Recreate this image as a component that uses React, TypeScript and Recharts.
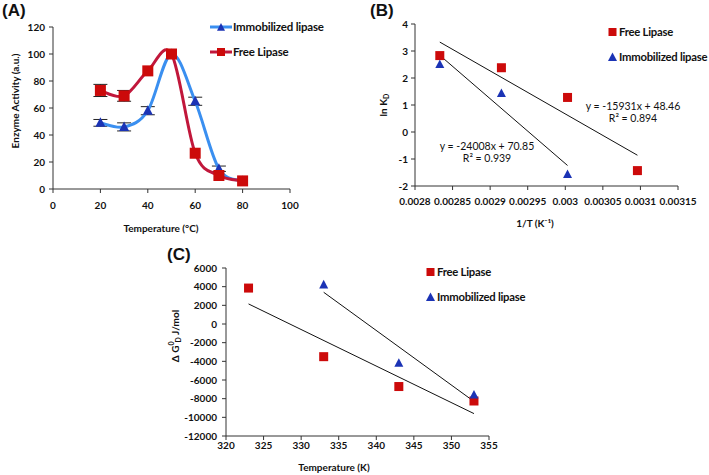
import React from "react";
import {
  ComposedChart, ScatterChart, Line, Scatter, XAxis, YAxis, ErrorBar, Legend, Label,
} from "recharts";

// ---------- (A) enzyme activity vs temperature ----------
const tempC = [20, 30, 40, 50, 60, 70, 80];
const immobActivity = [49, 46, 58, 100, 65, 15, 6];
const immobError = [2.5, 3, 3, null, 3, 2, null];
const freeActivity = [73, 69, 87.5, 100, 26.5, 10, 6];
const freeError = [4.5, 4, null, null, null, null, null];
const ticksAX = [0, 20, 40, 60, 80, 100];
const ticksAY = [0, 20, 40, 60, 80, 100, 120];

// ---------- (B) ln KD vs 1/T ----------
const invT = [0.002833, 0.002915, 0.003003, 0.003096];
const lnKFree = [2.83, 2.38, 1.28, -1.43];
const lnKImmob = [2.5, 1.43, -1.57];
const trendFreeBX = [0.002833, 0.003096];
const trendFreeBY = [3.33, -0.86];
const trendImmobBX = [0.002833, 0.003003];
const trendImmobBY = [2.84, -1.24];
const ticksBX = [0.0028, 0.00285, 0.0029, 0.00295, 0.003, 0.00305, 0.0031, 0.00315];
const ticksBY = [-2, -1, 0, 1, 2, 3, 4];

// ---------- (C) dG vs temperature ----------
const tempK = [323, 333, 343, 353];
const dGFree = [3850, -3500, -6700, -8250];
const tempKImmob = [333, 343, 353];
const dGImmob = [4200, -4200, -7600];
const trendFreeCX = [323, 353];
const trendFreeCY = [2150, -9600];
const trendImmobCX = [333, 353];
const trendImmobCY = [3400, -8300];
const ticksCX = [320, 325, 330, 335, 340, 345, 350, 355];
const ticksCY = [-12000, -10000, -8000, -6000, -4000, -2000, 0, 2000, 4000, 6000];

const FONT = "Lato, 'Liberation Sans', sans-serif";
const RED = "#cc0a0a";
const RED_LINE = "#c1173b";
const BLUE = "#1b33b5";
const BLUE_LINE = "#3a8ff0";
const AXIS = "#333";

const tick = { fontSize: 10, fontWeight: 700, fill: "#111", fontFamily: FONT };

const dataA = tempC.map((t, i) => ({
  t, imm: immobActivity[i], immErr: immobError[i], free: freeActivity[i], freeErr: freeError[i],
}));
const pts = (xs: number[], ys: number[]) => xs.map((x, i) => ({ x, y: ys[i] }));

// excel-like smoothed line (catmull-rom through the points)
function smoothCurve(context: any) {
  let p: number[][] = [];
  return {
    areaStart() {},
    areaEnd() {},
    lineStart() { p = []; },
    point(x: number, y: number) { p.push([x, y]); },
    lineEnd() {
      if (!p.length) return;
      context.moveTo(p[0][0], p[0][1]);
      for (let i = 0; i < p.length - 1; i++) {
        const p0 = p[Math.max(0, i - 1)], p1 = p[i], p2 = p[i + 1], p3 = p[Math.min(p.length - 1, i + 2)];
        context.bezierCurveTo(
          p1[0] + (p2[0] - p0[0]) / 6, p1[1] + (p2[1] - p0[1]) / 6,
          p2[0] - (p3[0] - p1[0]) / 6, p2[1] - (p3[1] - p1[1]) / 6,
          p2[0], p2[1]
        );
      }
    },
  };
}

const Tri = ({ cx, cy, s = 10, fill = BLUE }: any) =>
  cx == null ? null : (
    <path d={`M${cx},${cy - s * 0.55}L${cx + s / 2},${cy + s * 0.4}L${cx - s / 2},${cy + s * 0.4}Z`} fill={fill} />
  );
const Sq = ({ cx, cy, s = 10, fill = RED }: any) =>
  cx == null ? null : <rect x={cx - s / 2} y={cy - s / 2} width={s} height={s} fill={fill} />;

const legendText = {
  fontFamily: FONT, fontWeight: 700, fontSize: 11.5, letterSpacing: -0.2, color: "#111", whiteSpace: "nowrap" as const,
};
const legendTextSmall = { ...legendText, fontSize: 11.3, letterSpacing: -0.25 };

const LegendA = () => (
  <div style={legendText}>
    <div style={{ display: "flex", alignItems: "center", height: 25 }}>
      <svg width={22} height={12}>
        <line x1={0} y1={6} x2={22} y2={6} stroke={BLUE_LINE} strokeWidth={3} />
        <Tri cx={11} cy={6.5} s={8} />
      </svg>
      <span style={{ marginLeft: 1 }}>Immobilized lipase</span>
    </div>
    <div style={{ display: "flex", alignItems: "center", height: 25 }}>
      <svg width={22} height={12}>
        <line x1={0} y1={6} x2={22} y2={6} stroke={RED_LINE} strokeWidth={3} />
        <Sq cx={11} cy={6} s={8} />
      </svg>
      <span style={{ marginLeft: 1 }}>Free Lipase</span>
    </div>
  </div>
);

const LegendMarkers = () => (
  <div style={legendTextSmall}>
    <div style={{ display: "flex", alignItems: "center", height: 25 }}>
      <svg width={9} height={10}><Sq cx={4.5} cy={5} s={8} /></svg>
      <span style={{ marginLeft: 2 }}>Free Lipase</span>
    </div>
    <div style={{ display: "flex", alignItems: "center", height: 25 }}>
      <svg width={9} height={10}><Tri cx={4.5} cy={5.5} s={9} /></svg>
      <span style={{ marginLeft: 2 }}>Immobilized lipase</span>
    </div>
  </div>
);

const axisTitle = { fontFamily: FONT, fontWeight: 700, fontSize: 10, fill: "#111" };

const RotTitle = ({ x, y, children }: any) => (
  <text x={0} y={0} transform={`translate(${x},${y}) rotate(-90)`} textAnchor="middle" dominantBaseline="central" style={axisTitle}>
    {children}
  </text>
);

const panelTag = (txt: string, left: number, top: number) => (
  <div style={{ position: "absolute", left, top, fontFamily: "'Liberation Sans', Arial, sans-serif", fontWeight: 700, fontSize: 17, lineHeight: "20px", color: "#111" }}>
    {txt}
  </div>
);

const note = (lines: string[], cx: number, top: number) => (
  <div style={{ position: "absolute", left: cx - 60, top, width: 120, textAlign: "center", fontFamily: FONT, fontSize: 10.5, lineHeight: "12px", color: "#111" }}>
    {lines.map((l) => <div key={l}>{l}</div>)}
  </div>
);

const noShape = () => <g />;

export default function App() {
  return (
    <div style={{ position: "fixed", left: 0, top: 0, width: 709, height: 475, background: "#fff", overflow: "hidden" }}>
      {/* (A) */}
      <div style={{ position: "absolute", left: 0, top: 0 }}>
        <ComposedChart width={354} height={240} data={dataA} margin={{ top: 27, right: 64, bottom: 0, left: 0 }}>
          <XAxis type="number" dataKey="t" domain={[0, 100]} ticks={ticksAX} height={51} tick={tick} tickSize={4} tickMargin={9} stroke={AXIS}>
            <Label content={() => <text x={161} y={228} textAnchor="middle" dominantBaseline="central" style={axisTitle}>Temperature (°C)</text>} />
          </XAxis>
          <YAxis type="number" domain={[0, 120]} ticks={ticksAY} width={53} tick={tick} tickSize={4} tickMargin={4} stroke={AXIS}>
            <Label content={() => <RotTitle x={15} y={101}>Enzyme Activity (a.u.)</RotTitle>} />
          </YAxis>
          <Line dataKey="imm" name="Immobilized lipase" type={smoothCurve as any} stroke={BLUE_LINE} strokeWidth={3}
            dot={(p: any) => <Tri key={`i${p.index}`} cx={p.cx} cy={p.cy} s={10} />} isAnimationActive={false}>
            <ErrorBar dataKey="immErr" width={7} stroke="#222" strokeWidth={1} direction="y" />
          </Line>
          <Line dataKey="free" name="Free Lipase" type={smoothCurve as any} stroke={RED_LINE} strokeWidth={3}
            dot={(p: any) => <Sq key={`f${p.index}`} cx={p.cx} cy={p.cy} s={11} />} isAnimationActive={false}>
            <ErrorBar dataKey="freeErr" width={7} stroke="#222" strokeWidth={1} direction="y" />
          </Line>
          <Legend layout="vertical" align="center" verticalAlign="middle" content={LegendA}
            wrapperStyle={{ position: "absolute", left: 210, top: 14, width: "auto" }} />
        </ComposedChart>
      </div>

      {/* (B) */}
      <div style={{ position: "absolute", left: 354, top: 0 }}>
        <ScatterChart width={355} height={240} margin={{ top: 24, right: 31, bottom: 0, left: 0 }}>
          <XAxis type="number" dataKey="x" domain={[0.0028, 0.00315]} ticks={ticksBX} height={54} tick={tick} tickSize={4} tickMargin={8} stroke={AXIS}>
            <Label content={() => <text x={181} y={223} textAnchor="middle" dominantBaseline="central" style={axisTitle}>1/T (K⁻¹)</text>} />
          </XAxis>
          <YAxis type="number" dataKey="y" domain={[-2, 4]} ticks={ticksBY} width={61} tick={tick} tickSize={4} tickMargin={3} stroke={AXIS}>
            <Label content={() => <RotTitle x={29} y={105}>ln K<tspan dy={3} fontSize={7}>D</tspan></RotTitle>} />
          </YAxis>
          <Scatter data={pts(trendFreeBX, trendFreeBY)} line={{ stroke: "#111", strokeWidth: 1 }} shape={noShape} legendType="none" isAnimationActive={false} />
          <Scatter data={pts(trendImmobBX, trendImmobBY)} line={{ stroke: "#111", strokeWidth: 1 }} shape={noShape} legendType="none" isAnimationActive={false} />
          <Scatter name="Free Lipase" data={pts(invT, lnKFree)} shape={(p: any) => <Sq cx={p.cx} cy={p.cy} s={9} />} isAnimationActive={false} />
          <Scatter name="Immobilized lipase" data={pts(invT.slice(0, 3), lnKImmob)} shape={(p: any) => <Tri cx={p.cx} cy={p.cy} s={9} />} isAnimationActive={false} />
          <Legend layout="vertical" align="center" verticalAlign="middle" content={LegendMarkers}
            wrapperStyle={{ position: "absolute", left: 254, top: 19, width: "auto" }} />
        </ScatterChart>
      </div>

      {/* (C) */}
      <div style={{ position: "absolute", left: 150, top: 240 }}>
        <ScatterChart width={400} height={235} margin={{ top: 28, right: 61, bottom: 0, left: 0 }}>
          <XAxis type="number" dataKey="x" domain={[320, 355]} ticks={ticksCX} height={39} tick={tick} tickSize={4} tickMargin={2} stroke={AXIS}>
            <Label content={() => <text x={184} y={227} textAnchor="middle" dominantBaseline="central" style={axisTitle}>Temperature (K)</text>} />
          </XAxis>
          <YAxis type="number" dataKey="y" domain={[-12000, 6000]} ticks={ticksCY} width={76} tick={tick} tickSize={4} tickMargin={5} stroke={AXIS}>
            <Label content={() => (
              <RotTitle x={25} y={96}>
                Δ G<tspan dy={-4} fontSize={7}>0</tspan><tspan dy={7} dx={-1} fontSize={7}>D</tspan><tspan dy={-3}> J/mol</tspan>
              </RotTitle>
            )} />
          </YAxis>
          <Scatter data={pts(trendFreeCX, trendFreeCY)} line={{ stroke: "#111", strokeWidth: 1 }} shape={noShape} legendType="none" isAnimationActive={false} />
          <Scatter data={pts(trendImmobCX, trendImmobCY)} line={{ stroke: "#111", strokeWidth: 1 }} shape={noShape} legendType="none" isAnimationActive={false} />
          <Scatter name="Free Lipase" data={pts(tempK, dGFree)} shape={(p: any) => <Sq cx={p.cx} cy={p.cy} s={9} />} isAnimationActive={false} />
          <Scatter name="Immobilized lipase" data={pts(tempKImmob, dGImmob)} shape={(p: any) => <Tri cx={p.cx} cy={p.cy} s={9} />} isAnimationActive={false} />
          <Legend layout="vertical" align="center" verticalAlign="middle" content={LegendMarkers}
            wrapperStyle={{ position: "absolute", left: 276, top: 19, width: "auto" }} />
        </ScatterChart>
      </div>

      {panelTag("(A)", 2, 1)}
      {panelTag("(B)", 370, 1)}
      {panelTag("(C)", 167, 245)}
      {note(["y = -15931x + 48.46", "R² = 0.894"], 633, 100)}
      {note(["y = -24008x + 70.85", "R² = 0.939"], 487, 140)}
    </div>
  );
}
